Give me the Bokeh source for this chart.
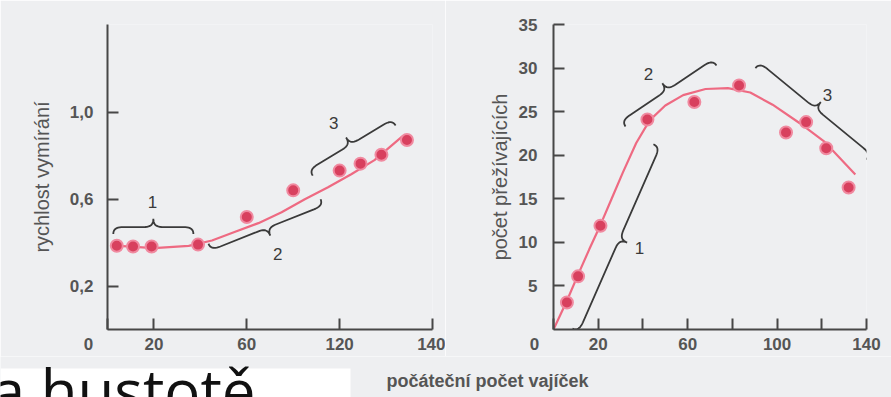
import math
from bokeh.plotting import figure
from bokeh.models import Range1d, FixedTicker, Label, BoxAnnotation
from bokeh.layouts import column, row
from bokeh.embed import file_html
from bokeh.resources import INLINE

# ---------------- data ----------------
# left panel: death rate vs initial number of eggs
eggs_left = [4, 11, 19, 39, 60, 80, 100, 109, 118, 129]
death_rate = [0.386, 0.382, 0.382, 0.391, 0.518, 0.641, 0.732, 0.764, 0.805, 0.873]
fit_left_x = [5, 20, 35, 45, 55, 65, 75, 85, 95, 105, 115, 127]
fit_left_y = [0.385, 0.375, 0.385, 0.41, 0.45, 0.49, 0.54, 0.60, 0.655, 0.715, 0.78, 0.89]

# right panel: number of survivors vs initial number of eggs
eggs_right = [6, 11, 21, 42, 63, 83, 104, 113, 122, 132]
survivors = [3.1, 6.1, 11.9, 24.1, 26.1, 28.0, 22.6, 23.8, 20.8, 16.3]
fit_right_x = [0, 6, 11, 16, 21, 26, 31, 37, 43, 50, 58, 68, 78, 88, 98, 110, 121, 135]
fit_right_y = [0, 3.3, 6.3, 9.2, 12.0, 15.0, 18.0, 21.4, 24.0, 25.7, 26.9, 27.6, 27.7, 27.2, 25.8, 23.7, 21.6, 17.8]

left_xticks = [0, 20, 60, 100, 140]
left_xtick_labels = ["0", "20", "60", "120", "140"]
left_yticks = [0.2, 0.6, 1.0]
left_ytick_labels = ["0,2", "0,6", "1,0"]
right_xticks = [0, 20, 40, 60, 80, 100, 120, 140]
right_xtick_labels = ["0", "20", "", "60", "", "100", "", "140"]
right_yticks = [5, 10, 15, 20, 25, 30, 35]
right_ytick_labels = ["5", "10", "15", "20", "25", "30", "35"]

# braces: start x, start y, end x, end y, side of tip, label, label x, label y
left_braces = [
    (2.5, 0.44, 37.0, 0.44, 1, "1", 19.4, 0.586),
    (43.5, 0.395, 91.8, 0.60, -1, "2", 73.3, 0.35),
    (88.4, 0.709, 124.1, 0.94, 1, "3", 97.4, 0.95),
]
right_braces = [
    (8.5, 0.1, 44.7, 21.25, -1, "1", 38.5, 9.3),
    (32.2, 23.3, 72.9, 30.3, 1, "2", 42.5, 29.3),
    (90.3, 30.0, 140.0, 19.5, 1, "3", 122.5, 26.9),
]

BG = "#eeeff1"
AX = "#474747"
TXT = "#555555"
PT = "#d8405e"
LN = "#ee6a82"
FONT = "Liberation Sans"
ZERO_PAD = "\u2007\u2007\u2007\u2007"   # shifts the lone "0" left of the origin


def brace_path(x0, y0, x1, y1, side, kx, ky, h=7.0):
    ax, ay = x0 * kx, y0 * ky
    bx, by = x1 * kx, y1 * ky
    dx, dy = bx - ax, by - ay
    L = math.hypot(dx, dy)
    tx, ty = dx / L, dy / L
    nx, ny = -ty * side, tx * side
    r = min(10.0, L / 6)
    m = L / 2
    tip = 2.2 * h

    def cubic(p0, p1, p2, p3, n=10):
        out = []
        for i in range(n + 1):
            t = i / n
            a = (1 - t) ** 3
            b = 3 * (1 - t) ** 2 * t
            c = 3 * (1 - t) * t ** 2
            d = t ** 3
            out.append((a * p0[0] + b * p1[0] + c * p2[0] + d * p3[0],
                        a * p0[1] + b * p1[1] + c * p2[1] + d * p3[1]))
        return out

    local = []
    local += cubic((0, 0), (0, h * 0.7), (r * 0.3, h), (r, h))
    local += cubic((m - r, h), (m - r * 0.3, h), (m, h * 1.3), (m, tip))
    local += cubic((m, tip), (m, h * 1.3), (m + r * 0.3, h), (m + r, h))
    local += cubic((L - r, h), (L - r * 0.3, h), (L, h * 0.7), (L, 0))
    xs, ys = [], []
    for u, v in local:
        px = ax + u * tx + v * nx
        py = ay + u * ty + v * ny
        xs.append(px / kx)
        ys.append(py / ky)
    return xs, ys


def make_panel(width, height, borders, xr, yr, xticks, xlabels, yticks, ylabels,
               ystandoff, ytitle, title_standoff):
    bl, br, bt, bb = borders
    p = figure(width=width, height=height, x_range=Range1d(*xr), y_range=Range1d(*yr),
               toolbar_location=None, output_backend="svg",
               min_border_left=bl, min_border_right=br, min_border_top=bt, min_border_bottom=bb)
    p.background_fill_color = BG
    p.border_fill_color = BG
    p.outline_line_color = None
    p.grid.visible = False
    xl = [s + ZERO_PAD if s == "0" else s for s in xlabels]
    p.xaxis.ticker = FixedTicker(ticks=xticks)
    p.xaxis.major_label_overrides = {t: s for t, s in zip(xticks, xl)}
    p.yaxis.ticker = FixedTicker(ticks=yticks)
    p.yaxis.major_label_overrides = {t: s for t, s in zip(yticks, ylabels)}
    for a in (p.xaxis[0], p.yaxis[0]):
        a.axis_line_color = AX
        a.axis_line_width = 2
        a.major_tick_line_color = AX
        a.major_tick_line_width = 2
        a.major_tick_in = 11
        a.major_tick_out = 0
        a.minor_tick_line_color = None
        a.major_label_text_font = FONT
        a.major_label_text_font_size = "17px"
        a.major_label_text_font_style = "bold"
        a.major_label_text_color = TXT
    p.xaxis.major_label_standoff = 5
    p.yaxis.major_label_standoff = ystandoff
    p.yaxis.axis_label = ytitle
    p.yaxis.axis_label_standoff = title_standoff
    p.yaxis.axis_label_text_font = FONT
    p.yaxis.axis_label_text_font_size = "20px"
    p.yaxis.axis_label_text_font_style = "normal"
    p.yaxis.axis_label_text_color = TXT
    return p


# ---------------- left panel ----------------
LW, LH = 445, 356
Lb = (107, 13, 23, 24)
Lxr, Lyr = (0, 140), (0, 1.405)
pl = make_panel(LW, LH, Lb, Lxr, Lyr, left_xticks, left_xtick_labels,
                left_yticks, left_ytick_labels, 14, "rychlost vymírání", 14)
lkx = (LW - Lb[0] - Lb[1]) / (Lxr[1] - Lxr[0])
lky = (LH - Lb[2] - Lb[3]) / (Lyr[1] - Lyr[0])

for x0, y0, x1, y1, side, lab, lx, ly in left_braces:
    bx, by = brace_path(x0, y0, x1, y1, side, lkx, lky)
    pl.line(bx, by, line_color="#3a3a3a", line_width=1.8)
    pl.add_layout(Label(x=lx, y=ly, text=lab, text_align="center", text_baseline="middle",
                        text_font=FONT, text_font_size="17px", text_color="#3a3a3a"))

pl.line(fit_left_x, fit_left_y, line_color=LN, line_width=2.2)
pl.scatter(eggs_left, death_rate, size=12, fill_color=PT, line_color="#f08aa0", line_width=2)

# ---------------- right panel ----------------
RW, RH = 446, 356
Rb = (108, 25, 24, 24)
Rxr, Ryr = (0, 140), (0, 35)
pr = make_panel(RW, RH, Rb, Rxr, Ryr, right_xticks, right_xtick_labels,
                right_yticks, right_ytick_labels, 16, "počet přežívajících", 5)
rkx = (RW - Rb[0] - Rb[1]) / (Rxr[1] - Rxr[0])
rky = (RH - Rb[2] - Rb[3]) / (Ryr[1] - Ryr[0])

for x0, y0, x1, y1, side, lab, lx, ly in right_braces:
    bx, by = brace_path(x0, y0, x1, y1, side, rkx, rky)
    pr.line(bx, by, line_color="#3a3a3a", line_width=1.8)
    pr.add_layout(Label(x=lx, y=ly, text=lab, text_align="center", text_baseline="middle",
                        text_font=FONT, text_font_size="17px", text_color="#3a3a3a"))

pr.line(fit_right_x, fit_right_y, line_color=LN, line_width=2.2)
pr.scatter(eggs_right, survivors, size=12, fill_color=PT, line_color="#f08aa0", line_width=2)

# ---------------- bottom strip ----------------
SW, SH = 891, 41
ps = figure(width=SW, height=SH, x_range=Range1d(0, SW), y_range=Range1d(0, SH),
            toolbar_location=None, output_backend="svg", min_border=0,
            x_axis_type=None, y_axis_type=None)
ps.background_fill_color = BG
ps.border_fill_color = BG
ps.outline_line_color = None
ps.grid.visible = False
ps.add_layout(BoxAnnotation(left=0, right=350, top=29, fill_color="white", fill_alpha=1.0,
                            line_color=None))
ps.add_layout(Label(x=255, y=8, text="a hustotě", text_align="right",
                    text_baseline="alphabetic", text_font="Open Sans",
                    text_font_size="60px", text_color="#111111"))
ps.add_layout(Label(x=487, y=17, text="počáteční počet vajíček",
                    text_align="center", text_baseline="middle", text_font=FONT,
                    text_font_size="18px", text_font_style="bold", text_color=TXT))

layout = column(row(pl, pr), ps)
open("out.html", "w").write(file_html(layout, INLINE))
